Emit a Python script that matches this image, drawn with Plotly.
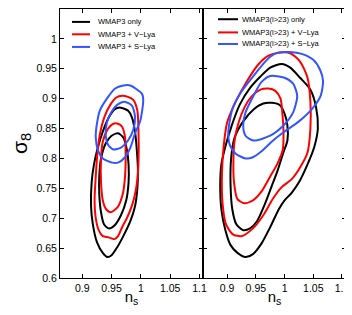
import plotly.graph_objects as go

# ---------------- data: contours (n_s, sigma_8) ----------------
# Left panel: WMAP3 only / + V-Lya / + S-Lya  (68% inner, 95% outer)
left_black_95 = [(0.965,0.885),(0.978,0.880),(0.985,0.868),(0.990,0.845),(0.993,0.815),(0.995,0.780),
                 (0.994,0.750),(0.990,0.720),(0.982,0.695),(0.970,0.670),(0.960,0.652),(0.950,0.638),
                 (0.943,0.635),(0.935,0.642),(0.925,0.660),(0.918,0.690),(0.915,0.720),(0.916,0.760),
                 (0.920,0.790),(0.927,0.820),(0.935,0.845),(0.945,0.868),(0.955,0.882)]
left_black_68 = [(0.961,0.842),(0.970,0.835),(0.976,0.815),(0.979,0.790),(0.979,0.760),(0.975,0.730),
                 (0.966,0.705),(0.955,0.688),(0.945,0.683),(0.937,0.690),(0.932,0.710),(0.929,0.740),
                 (0.929,0.770),(0.932,0.800),(0.940,0.825),(0.950,0.838)]
left_red_95 = [(0.968,0.905),(0.978,0.903),(0.987,0.898),(0.994,0.880),(0.996,0.842),(0.996,0.797),
               (0.994,0.765),(0.990,0.740),(0.985,0.722),(0.977,0.702),(0.968,0.685),(0.961,0.670),
               (0.955,0.665),(0.945,0.668),(0.935,0.670),(0.928,0.680),(0.923,0.700),(0.921,0.730),
               (0.923,0.770),(0.926,0.810),(0.930,0.840),(0.938,0.870),(0.948,0.890),(0.958,0.902)]
left_red_68 = [(0.961,0.858),(0.968,0.853),(0.973,0.835),(0.974,0.810),(0.973,0.770),(0.969,0.740),
               (0.960,0.718),(0.948,0.710),(0.940,0.716),(0.935,0.730),(0.932,0.760),(0.932,0.800),
               (0.935,0.828),(0.943,0.848),(0.953,0.858)]
left_blue_95 = [(0.982,0.922),(1.002,0.908),(1.004,0.897),(0.999,0.863),(0.990,0.842),(0.982,0.818),
                (0.973,0.802),(0.961,0.793),(0.951,0.793),(0.935,0.800),(0.927,0.813),(0.923,0.835),
                (0.925,0.858),(0.930,0.880),(0.942,0.900),(0.956,0.917),(0.970,0.922)]
left_blue_68 = [(0.972,0.895),(0.985,0.888),(0.990,0.870),(0.987,0.848),(0.978,0.830),(0.966,0.818),
                (0.953,0.815),(0.944,0.823),(0.940,0.840),(0.942,0.860),(0.950,0.878),(0.960,0.890)]

# Right panel: WMAP3(l>23) only / + V-Lya / + S-Lya
right_black_95 = [(0.995,0.958),(1.010,0.952),(1.027,0.935),(1.045,0.915),(1.055,0.885),(1.058,0.850),
                  (1.052,0.820),(1.040,0.790),(1.025,0.760),(1.012,0.742),(1.000,0.730),(0.990,0.715),
                  (0.975,0.685),(0.960,0.658),(0.945,0.640),(0.932,0.635),(0.918,0.642),(0.906,0.655),
                  (0.897,0.680),(0.890,0.715),(0.888,0.755),(0.890,0.790),(0.897,0.820),(0.908,0.855),
                  (0.922,0.890),(0.940,0.918),(0.958,0.937),(0.975,0.952)]
right_black_68 = [(0.978,0.893),(0.992,0.889),(1.000,0.875),(1.005,0.855),(1.005,0.830),(0.998,0.810),
                  (0.988,0.780),(0.977,0.752),(0.965,0.722),(0.952,0.695),(0.940,0.683),(0.928,0.680),
                  (0.916,0.690),(0.909,0.715),(0.906,0.755),(0.907,0.800),(0.913,0.835),(0.928,0.862),
                  (0.946,0.882),(0.963,0.892)]
right_red_95 = [(0.990,0.977),(1.010,0.976),(1.027,0.962),(1.040,0.935),(1.045,0.895),(1.045,0.850),
                (1.040,0.810),(1.027,0.785),(1.012,0.765),(0.995,0.752),(0.980,0.733),(0.963,0.705),
                (0.945,0.683),(0.925,0.670),(0.910,0.673),(0.898,0.690),(0.892,0.725),(0.891,0.775),
                (0.894,0.820),(0.900,0.860),(0.915,0.895),(0.935,0.930),(0.955,0.958),(0.972,0.972)]
right_red_68 = [(0.972,0.917),(0.984,0.913),(0.993,0.900),(0.996,0.877),(0.998,0.850),(0.997,0.815),
                (0.987,0.790),(0.975,0.770),(0.960,0.745),(0.945,0.730),(0.930,0.725),(0.918,0.732),
                (0.912,0.760),(0.911,0.800),(0.913,0.830),(0.920,0.860),(0.930,0.885),(0.942,0.903),
                (0.958,0.915)]
right_blue_95 = [(0.988,0.977),(1.010,0.978),(1.030,0.975),(1.050,0.965),(1.062,0.948),(1.067,0.930),
                 (1.063,0.905),(1.048,0.883),(1.025,0.862),(1.000,0.845),(0.980,0.830),(0.960,0.812),
                 (0.945,0.802),(0.932,0.800),(0.915,0.808),(0.905,0.822),(0.902,0.840),(0.904,0.860),
                 (0.910,0.885),(0.925,0.912),(0.945,0.937),(0.960,0.955),(0.975,0.970)]
right_blue_68 = [(0.975,0.938),(1.000,0.935),(1.015,0.925),(1.022,0.905),(1.015,0.877),(0.998,0.855),
                 (0.975,0.838),(0.946,0.830),(0.932,0.838),(0.928,0.855),(0.932,0.877),(0.946,0.905),
                 (0.960,0.928)]

left_labels = ["WMAP3 only", "WMAP3 + V\u2212Lya", "WMAP3 + S\u2212Lya"]
right_labels = ["WMAP3(l&gt;23) only", "WMAP3(l&gt;23) + V\u2212Lya", "WMAP3(l&gt;23) + S\u2212Lya"]

x_ticks = [0.9, 0.95, 1.0, 1.05, 1.1]
x_tick_text = ["0.9", "0.95", "1", "1.05", "1.1"]
y_ticks = [0.6, 0.65, 0.7, 0.75, 0.8, 0.85, 0.9, 0.95, 1.0, 1.05]
y_tick_text = ["0.6", "0.65", "0.7", "0.75", "0.8", "0.85", "0.9", "0.95", "1", "1.05"]

colors = ["#000000", "#ff0000", "#3355ff"]
FONT = "Liberation Sans, Arial, sans-serif"

fig = go.Figure()

def add_contour(pts, color, xa, ya):
    xs = [p[0] for p in pts] + [pts[0][0]]
    ys = [p[1] for p in pts] + [pts[0][1]]
    fig.add_trace(go.Scatter(x=xs, y=ys, mode="lines", xaxis=xa, yaxis=ya,
                             line=dict(color=color, width=2, shape="spline", smoothing=0.7),
                             showlegend=False, hoverinfo="skip"))

for pts, c in [(left_black_95, colors[0]), (left_black_68, colors[0]),
               (left_red_95, colors[1]), (left_red_68, colors[1]),
               (left_blue_95, colors[2]), (left_blue_68, colors[2])]:
    add_contour(pts, c, "x", "y")
for pts, c in [(right_black_95, colors[0]), (right_black_68, colors[0]),
               (right_red_95, colors[1]), (right_red_68, colors[1]),
               (right_blue_95, colors[2]), (right_blue_68, colors[2])]:
    add_contour(pts, c, "x2", "y2")

axis_common = dict(showline=True, linecolor="black", linewidth=1, mirror="ticks",
                   ticks="inside", ticklen=4, tickcolor="black", showgrid=False,
                   zeroline=False, tickfont=dict(family=FONT, size=10.5, color="black"))

# page body has an 8px margin, so the figure is sized to fit the 352x315 window
fig.update_layout(
    width=344, height=299,
    margin=dict(l=52, r=6, t=1, b=29),
    paper_bgcolor="white", plot_bgcolor="white",
    font=dict(family=FONT, color="black"),
    xaxis=dict(domain=[0, 0.5], range=[0.862, 1.106], tickvals=x_ticks, ticktext=x_tick_text,
               title=dict(text="n<sub>s</sub>", font=dict(size=15, family=FONT), standoff=0),
               anchor="y", **axis_common),
    yaxis=dict(domain=[0, 1], range=[0.6, 1.05], tickvals=y_ticks, ticktext=y_tick_text,
               title=dict(text="\u03c3<sub>8</sub>", font=dict(size=21, family=FONT), standoff=6),
               anchor="x", **axis_common),
    xaxis2=dict(domain=[0.5, 1], range=[0.858, 1.107], tickvals=x_ticks, ticktext=x_tick_text,
                title=dict(text="n<sub>s</sub>", font=dict(size=15, family=FONT), standoff=0),
                anchor="y2", **axis_common),
    yaxis2=dict(domain=[0, 1], range=[0.6, 1.05], tickvals=y_ticks, showticklabels=False,
                anchor="x2", **axis_common),
)

# legends drawn as line samples + text in axis-domain coordinates
left_leg_y = [0.952, 0.906, 0.859]
right_leg_y = [0.962, 0.913, 0.870]
for i in range(3):
    fig.add_shape(type="line", xref="x domain", yref="y domain", x0=0.084, x1=0.21,
                  y0=left_leg_y[i], y1=left_leg_y[i], line=dict(color=colors[i], width=2))
    fig.add_annotation(xref="x domain", yref="y domain", x=0.255, y=left_leg_y[i],
                       text=left_labels[i], showarrow=False, xanchor="left", yanchor="middle",
                       font=dict(family=FONT, size=7.5, color="black"))
    fig.add_shape(type="line", xref="x2 domain", yref="y2 domain", x0=0.105, x1=0.245,
                  y0=right_leg_y[i], y1=right_leg_y[i], line=dict(color=colors[i], width=2))
    fig.add_annotation(xref="x2 domain", yref="y2 domain", x=0.262, y=right_leg_y[i],
                       text=right_labels[i], showarrow=False, xanchor="left", yanchor="middle",
                       font=dict(family=FONT, size=7.5, color="black"))

fig.write_html("out.html")
